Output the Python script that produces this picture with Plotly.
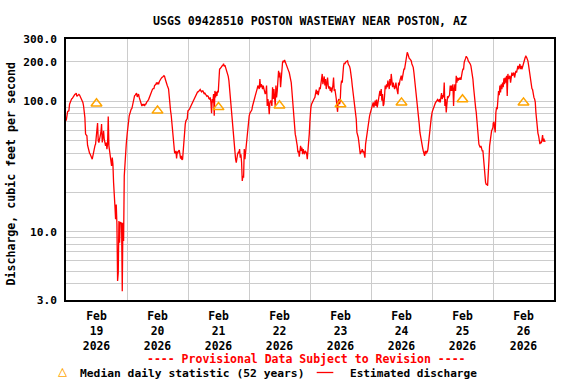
import numpy as np
import pandas as pd
import plotly.graph_objects as go

title_text = "USGS 09428510 POSTON WASTEWAY NEAR POSTON, AZ"
days = pd.date_range("2026-02-19", periods=8, freq="D")
read_step_min = 15.75  # spacing of the values

# Discharge (cfs), one list per day
feb19 = [71, 80, 83, 84, 84.5, 95, 98, 103, 104, 105, 107.5, 110, 111.5, 113, 113.5, 115.5, 109, 110, 111.5, 113,
         111.5, 109, 107, 104, 101, 98, 92, 83, 75, 56, 55, 54.4, 46, 44, 40.5, 40, 39.3, 37.7, 36.4, 36,
         38.2, 41.7, 43, 45.5, 47, 52.8, 57.7, 68, 49.8, 48.3, 51.2, 54.4, 57.7, 66.8, 48.3, 52.8, 59.4, 51.2, 47, 45.5,
         48.3, 43, 47, 76.5, 45.5, 41.7, 39.3, 37.7, 32, 37, 33, 23.8, 20.6, 15.8, 12.5, 16.2, 11.4, 4.2, 4.86, 12.1,
         8.25, 11.9, 11.6, 11.7, 3.5, 11.7, 8.5, 26.8, 33.9, 40.5, 47]
feb20 = [56.6, 68, 69.6, 77.4, 82, 83, 87, 88, 95, 98, 104, 110, 111.5, 113.5, 115.5, 108, 111.5, 113.5, 107, 103,
         98, 95, 92, 95, 93, 95, 92, 95, 95, 98, 99, 101, 103, 107, 110, 113.5, 117, 123, 124, 125,
         125, 132, 133, 135, 139, 135, 139, 135, 141, 144, 150, 150, 152, 155, 155, 157, 155, 148, 144, 139,
         132, 128, 124, 109, 89.7, 84.5, 77.4, 68, 59.4, 51.2, 41.7, 40.5, 40, 41.7, 36.4, 41, 40.5, 41.7, 42.2, 39.3,
         36.4, 38.2, 35.6, 36, 43, 51.2, 59.4, 66.8, 70.8, 72, 73.8, 84.5]
feb21 = [84.5, 86, 87, 89.7, 92, 95, 98, 101, 104, 107, 109, 111.5, 113.5, 115.5, 118, 118, 120, 123, 123, 120,
         118, 120, 120, 117, 113.5, 115.5, 113.5, 111.5, 109, 110, 109, 105, 104, 107, 98, 81, 104, 98, 113.5, 77.4,
         120, 107, 118, 110, 120, 117, 162, 176, 178, 182, 185, 187, 189, 194, 185, 189, 182, 176, 171, 164,
         155, 144, 124, 107, 89.7, 82, 68.8, 57.7, 52.8, 45.5, 41.7, 36, 33.9, 38.6, 39.3, 40.5, 40, 43, 37, 39.3,
         33.9, 24.5, 26.8, 26, 43, 36, 40.5, 49.8, 57.7, 59.4, 66.8, 73.8]
feb22 = [77.4, 81, 83, 84.5, 86, 92, 95, 99, 105, 110, 113.5, 120, 125, 132, 128, 124, 148, 128, 135, 132,
         124, 132, 125, 120, 113.5, 117, 132, 92, 104, 95, 79.7, 98, 101, 99, 92, 128, 104, 124, 98, 92,
         132, 107, 120, 157, 171, 152, 166, 128, 148, 187, 199, 204, 199, 207, 199, 193, 187, 182, 176, 171,
         166, 157, 148, 139, 120, 104, 82, 68.8, 64.8, 56, 52.8, 49.8, 45.5, 40.5, 41.7, 37.7, 43, 45.5, 41.7, 44.2,
         39.3, 43, 40.5, 39.3, 41.7, 40.5, 40, 36, 40.5, 49, 56, 70.8]
feb23 = [81, 89.7, 95, 98, 101, 104, 105, 107, 115.5, 123, 113.5, 120, 111.5, 120, 128, 124, 139, 144, 162, 135,
         150, 155, 132, 148, 124, 135, 152, 132, 125, 130, 120, 128, 117, 124, 132, 152, 120, 124, 115.5, 105,
         92, 83, 101, 104, 95, 101, 132, 144, 139, 176, 187, 197, 193, 199, 201, 203, 204, 193, 189, 185,
         176, 166, 148, 132, 120, 113.5, 101, 87, 77.4, 73, 57.7, 56, 52.8, 48.3, 41.7, 39.3, 41.7, 40.5, 43, 40.5,
         41.7, 39.3, 37, 47, 51.2, 56, 64.8, 68, 73, 77.4, 81, 84.5]
feb24 = [89.7, 91, 95, 98, 89.7, 95, 101, 92, 103, 89.7, 98, 104, 109, 120, 110, 124, 101, 113.5, 92, 95,
         110, 132, 124, 135, 128, 144, 135, 124, 148, 132, 162, 135, 128, 139, 132, 124, 128, 139, 128, 120,
         113.5, 139, 132, 144, 152, 157, 144, 157, 166, 176, 176, 193, 211, 223, 237, 230, 217, 213, 211, 208,
         204, 193, 187, 182, 166, 148, 132, 117, 107, 104, 87, 77.4, 66.8, 57.7, 52.8, 48.3, 45.5, 44.2, 41.7, 40.5,
         38.2, 41.7, 39.3, 41.7, 40.5, 43, 48.3, 56, 66.8, 73, 75]
feb25 = [83, 86, 91, 93, 95, 98, 99, 101, 103, 101, 100, 104, 98, 107, 115.5, 104, 111.5, 107, 139, 92,
         104, 82, 107, 109, 107, 110, 111.5, 132, 120, 132, 120, 135, 92, 124, 135, 120, 157, 139, 152, 144,
         150, 148, 152, 146, 162, 168, 176, 176, 199, 211, 213, 221, 217, 213, 204, 201, 199, 193, 187, 176,
         162, 148, 128, 107, 104, 89.7, 82, 68.8, 59.4, 57.7, 46.9, 45.5, 44.2, 45.5, 42.9, 41.7, 41.7, 34.9, 31, 28.4,
         23.8, 23.1, 23.1, 22.5, 33.9, 34.9, 45.5, 51.2, 57.7, 59.4, 61.1, 63]
feb26 = [68, 69.6, 63, 57.7, 82, 89.7, 87, 98, 120, 111.5, 132, 117, 135, 124, 139, 128, 150, 135, 152, 139,
         157, 110, 162, 148, 152, 157, 139, 157, 166, 157, 162, 166, 152, 162, 171, 166, 182, 187, 176, 182,
         193, 176, 187, 176, 182, 193, 199, 208, 217, 221, 217, 211, 204, 189, 171, 157, 146, 132, 125, 123,
         111.5, 107, 104, 99, 82, 68, 64, 57, 54.4, 47.7, 46.9, 49, 47.7, 50.6, 55, 49, 51.8, 49, 50]
daily_series = [feb19, feb20, feb21, feb22, feb23, feb24, feb25, feb26]

# Median daily statistic (52 years), one per day at noon
median_cfs = [96.0, 84.6, 90.0, 92.8, 94.6, 97.6, 103.3, 97.6]

y_tickvals = [3, 10, 100, 200, 300]
y_ticktext = ["3.0", "10.0", "100.0", "200.0", "300.0"]
y_minor = [4, 5, 6, 7, 8, 9, 20, 30, 40, 50, 60, 70, 80, 90]
x_ticktext = [f"Feb<br>{d.day}<br>{d.year}" for d in days]

times, values = [], []
for d, series in zip(days, daily_series):
    t = d + pd.Timedelta(minutes=5) + pd.to_timedelta(np.arange(len(series)) * read_step_min, unit="min")
    times.extend(list(t))
    values.extend(series)

noon = days + pd.Timedelta(hours=12)

FONT = "DejaVu Sans Mono"
GRID = "#CCCCCC"

fig = go.Figure()
fig.add_trace(go.Scatter(x=times, y=values, mode="lines",
                         line=dict(color="#FF0000", width=1.3), showlegend=False, hoverinfo="skip"))
fig.add_trace(go.Scatter(x=noon, y=median_cfs, mode="markers",
                         marker=dict(symbol="triangle-up-open", size=9.5, color="#FFA500",
                                     line=dict(color="#FFA500", width=1.5)),
                         showlegend=False, hoverinfo="skip"))

fig.update_layout(
    width=576, height=384,
    margin=dict(l=66, r=22, t=39, b=84),
    paper_bgcolor="white", plot_bgcolor="white",
    font=dict(family=FONT, size=11, color="black", weight="bold"),
    title=dict(text=title_text, x=310 / 576, xanchor="center", y=1 - 21 / 384, yanchor="middle",
               font=dict(family=FONT, size=11.6, color="black", weight="bold")),
    showlegend=False,
)
fig.update_xaxes(
    type="date", range=[days[0], days[0] + pd.Timedelta(days=8)],
    tickmode="array", tickvals=noon, ticktext=x_ticktext,
    tickfont=dict(family=FONT, size=11.4, color="black", weight="bold"),
    showgrid=False, ticks="", ticklabelstandoff=5,
    showline=True, mirror=True, linecolor="black", linewidth=1.6,
    zeroline=False,
    minor=dict(tickmode="array", tickvals=days[1:], showgrid=True, gridcolor=GRID, gridwidth=1, ticks=""),
)
fig.update_yaxes(
    type="log", range=[np.log10(3), np.log10(300)],
    tickmode="array", tickvals=y_tickvals, ticktext=y_ticktext,
    tickfont=dict(family=FONT, size=11.2, color="black", weight="bold"),
    showgrid=True, gridcolor=GRID, gridwidth=1, ticks="", ticklabelstandoff=5,
    showline=True, mirror=True, linecolor="black", linewidth=1.6, zeroline=False,
    minor=dict(tickmode="array", tickvals=y_minor, showgrid=True, gridcolor=GRID, gridwidth=1, ticks=""),
)

PW, PH = 488.0, 261.0
def px(xp):
    return (xp - 66) / PW
def py(yp):
    return (300 - yp) / PH

fig.add_annotation(text="Discharge, cubic feet per second", xref="paper", yref="paper",
                   x=px(11), y=py(174.5), textangle=-90, showarrow=False,
                   xanchor="center", yanchor="middle",
                   font=dict(family=FONT, size=11.6, color="black", weight="bold"))
fig.add_annotation(text="---- Provisional Data Subject to Revision ----", xref="paper", yref="paper",
                   x=px(306.7), y=py(359), showarrow=False, xanchor="center", yanchor="middle",
                   font=dict(family=FONT, size=11.5, color="#FF0000", weight="bold"))
fig.add_annotation(text="△", xref="paper", yref="paper", x=px(62.7), y=py(371.5), showarrow=False,
                   xanchor="center", yanchor="middle",
                   font=dict(family=FONT, size=15, color="#FFA500", weight="bold"))
fig.add_annotation(text="Median daily statistic (52 years)", xref="paper", yref="paper",
                   x=px(77.5), y=py(373), showarrow=False, xanchor="left", yanchor="middle",
                   font=dict(family=FONT, size=11.3, color="black", weight="bold"))
fig.add_shape(type="line", xref="paper", yref="paper", x0=px(316.7), x1=px(333.3),
              y0=py(372.5), y1=py(372.5), line=dict(color="#FF0000", width=1.3))
fig.add_annotation(text="Estimated discharge", xref="paper", yref="paper",
                   x=px(348.3), y=py(373), showarrow=False, xanchor="left", yanchor="middle",
                   font=dict(family=FONT, size=11.1, color="black", weight="bold"))

fig.write_html("out.html", config={"displayModeBar": False},
               post_script="document.body.style.margin='0';document.body.style.padding='0';")
